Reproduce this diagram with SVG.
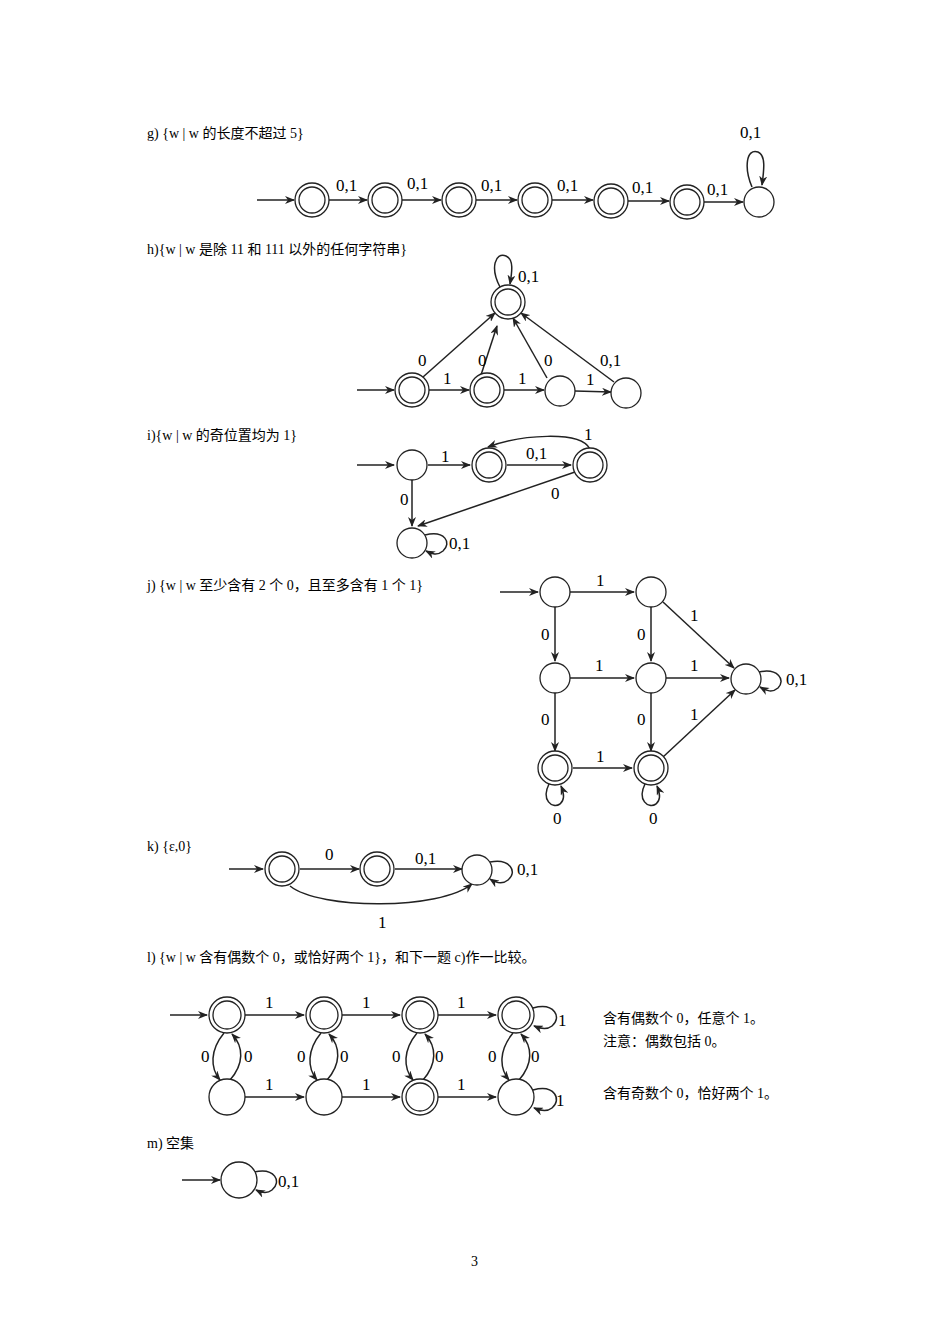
<svg xmlns="http://www.w3.org/2000/svg" width="950" height="1344" viewBox="0 0 950 1344">
<style>
text{font-family:"Liberation Serif","Noto Sans CJK SC",serif;font-size:17px;fill:#000}
.t{font-size:14px}
.s{fill:#fff;stroke:#222;stroke-width:1.3}
.i{fill:none;stroke:#222;stroke-width:1.3}
.e{fill:none;stroke:#222;stroke-width:1.5;marker-end:url(#a)}
</style>
<defs><marker id="a" markerWidth="10" markerHeight="8" refX="9" refY="4" orient="auto" markerUnits="userSpaceOnUse"><path d="M0,0L10,4L0,8L3,4z" fill="#222"/></marker></defs>
<rect width="950" height="1344" fill="#fff"/>
<g id="titles">
<text class="t" x="147" y="138">g) {w | w 的长度不超过 5}</text>
<text class="t" x="147" y="254">h){w | w 是除 11 和 111 以外的任何字符串}</text>
<text class="t" x="147" y="440">i){w | w 的奇位置均为 1}</text>
<text class="t" x="147" y="590">j) {w | w 至少含有 2 个 0，且至多含有 1 个 1}</text>
<text class="t" x="147" y="851">k) {ε,0}</text>
<text class="t" x="147" y="962">l) {w | w 含有偶数个 0，或恰好两个 1}，和下一题 c)作一比较。</text>
<text class="t" x="603" y="1023">含有偶数个 0，任意个 1。</text>
<text class="t" x="603" y="1046">注意：偶数包括 0。</text>
<text class="t" x="603" y="1098">含有奇数个 0，恰好两个 1。</text>
<text class="t" x="147" y="1148">m)  空集</text>
<text class="t" x="471" y="1266">3</text>
</g>
<g id="edges">
<line class="e" x1="257" y1="200" x2="294" y2="200"/>
<line class="e" x1="328" y1="200" x2="367" y2="200"/>
<line class="e" x1="401" y1="200" x2="441" y2="200"/>
<line class="e" x1="475" y1="200" x2="517" y2="200"/>
<line class="e" x1="551" y1="200" x2="593" y2="200"/>
<line class="e" x1="627" y1="201" x2="669" y2="201"/>
<line class="e" x1="703" y1="202" x2="743" y2="202"/>
<path class="e" d="M752,187 C744,168 746,148 758,152 C766,155 764,170 762,185"/>
<line class="e" x1="357" y1="390" x2="394" y2="390"/>
<line class="e" x1="428" y1="390" x2="469" y2="390"/>
<line class="e" x1="503" y1="390" x2="544" y2="390"/>
<line class="e" x1="575" y1="391" x2="611" y2="392"/>
<line class="e" x1="414" y1="385" x2="495" y2="313"/>
<line class="e" x1="481" y1="375" x2="497" y2="326"/>
<line class="e" x1="547" y1="378" x2="513" y2="318"/>
<line class="e" x1="614" y1="382" x2="521" y2="313"/>
<path class="e" d="M500,287 C490,268 495,252 506,256 C514,259 512,272 510,284"/>
<line class="e" x1="357" y1="465" x2="394" y2="465"/>
<line class="e" x1="428" y1="465" x2="470" y2="465"/>
<line class="e" x1="507" y1="465" x2="571" y2="465"/>
<path class="e" d="M590,449 C580,430 520,435 488,447"/>
<line class="e" x1="575" y1="472" x2="418" y2="526"/>
<line class="e" x1="412" y1="480" x2="412" y2="526"/>
<path class="e" d="M425,535 C445,530 452,543 443,551 C437,556 432,554 426,551"/>
<line class="e" x1="500" y1="592" x2="538" y2="592"/>
<line class="e" x1="570" y1="592" x2="634" y2="592"/>
<line class="e" x1="555" y1="607" x2="555" y2="661"/>
<line class="e" x1="651" y1="607" x2="651" y2="661"/>
<line class="e" x1="663" y1="602" x2="734" y2="668"/>
<line class="e" x1="570" y1="678" x2="634" y2="678"/>
<line class="e" x1="666" y1="678" x2="729" y2="678"/>
<path class="e" d="M759,672 C778,668 786,680 778,688 C772,693 767,691 760,687"/>
<line class="e" x1="555" y1="693" x2="555" y2="751"/>
<line class="e" x1="651" y1="693" x2="651" y2="751"/>
<line class="e" x1="663" y1="757" x2="735" y2="690"/>
<line class="e" x1="573" y1="768" x2="632" y2="768"/>
<path class="e" d="M549,784 C541,800 552,809 560,804 C565,800 564,793 561,786"/>
<path class="e" d="M645,784 C637,800 648,809 656,804 C661,800 660,793 657,786"/>
<line class="e" x1="229" y1="869" x2="263" y2="869"/>
<line class="e" x1="300" y1="869" x2="359" y2="869"/>
<line class="e" x1="395" y1="869" x2="462" y2="869"/>
<path class="e" d="M490,862 C510,858 518,872 508,880 C502,885 496,883 490,879"/>
<path class="e" d="M290,886 C320,910 440,910 472,884"/>
<line class="e" x1="170" y1="1015" x2="207" y2="1015"/>
<line class="e" x1="245" y1="1015" x2="304" y2="1015"/>
<line class="e" x1="342" y1="1015" x2="400" y2="1015"/>
<line class="e" x1="438" y1="1015" x2="496" y2="1015"/>
<line class="e" x1="245" y1="1097" x2="304" y2="1097"/>
<line class="e" x1="342" y1="1097" x2="400" y2="1097"/>
<line class="e" x1="438" y1="1097" x2="496" y2="1097"/>
<path class="e" d="M533,1008 C555,1002 562,1018 552,1026 C547,1030 541,1029 534,1026"/>
<path class="e" d="M533,1090 C555,1084 562,1100 552,1108 C547,1112 541,1111 534,1108"/>
<path class="e" d="M224,1033 C210,1050 210,1068 220,1080"/>
<path class="e" d="M230,1080 C244,1064 244,1047 232,1034"/>
<path class="e" d="M321,1033 C307,1050 307,1068 317,1080"/>
<path class="e" d="M327,1080 C341,1064 341,1047 329,1034"/>
<path class="e" d="M417,1033 C403,1050 403,1068 413,1080"/>
<path class="e" d="M423,1080 C437,1064 437,1047 425,1034"/>
<path class="e" d="M513,1033 C499,1050 499,1068 509,1080"/>
<path class="e" d="M519,1080 C533,1064 533,1047 521,1034"/>
<line class="e" x1="182" y1="1180" x2="220" y2="1180"/>
<path class="e" d="M254,1172 C275,1167 282,1182 272,1190 C267,1194 262,1193 256,1190"/>
</g>
<g id="labels">
<text x="336" y="191">0,1</text><text x="407" y="189">0,1</text><text x="481" y="191">0,1</text>
<text x="557" y="191">0,1</text><text x="632" y="193">0,1</text><text x="707" y="195">0,1</text>
<text x="740" y="138">0,1</text>
<text x="418" y="366">0</text><text x="478" y="366">0</text><text x="544" y="366">0</text><text x="600" y="366">0,1</text>
<text x="443" y="384">1</text><text x="518" y="384">1</text><text x="586" y="385">1</text>
<text x="518" y="282">0,1</text>
<text x="441" y="462">1</text><text x="526" y="459">0,1</text><text x="584" y="440">1</text>
<text x="551" y="499">0</text><text x="400" y="505">0</text><text x="449" y="549">0,1</text>
<text x="596" y="586">1</text><text x="690" y="621">1</text>
<text x="541" y="640">0</text><text x="637" y="640">0</text>
<text x="595" y="671">1</text><text x="690" y="671">1</text><text x="786" y="685">0,1</text>
<text x="541" y="725">0</text><text x="637" y="725">0</text><text x="690" y="720">1</text>
<text x="596" y="762">1</text>
<text x="553" y="824">0</text><text x="649" y="824">0</text>
<text x="325" y="860">0</text><text x="415" y="864">0,1</text><text x="517" y="875">0,1</text><text x="378" y="928">1</text>
<text x="265" y="1008">1</text><text x="362" y="1008">1</text><text x="457" y="1008">1</text>
<text x="265" y="1090">1</text><text x="362" y="1090">1</text><text x="457" y="1090">1</text>
<text x="558" y="1026">1</text><text x="556" y="1106">1</text>
<text x="201" y="1062">0</text><text x="244" y="1062">0</text>
<text x="297" y="1062">0</text><text x="340" y="1062">0</text>
<text x="392" y="1062">0</text><text x="435" y="1062">0</text>
<text x="488" y="1062">0</text><text x="531" y="1062">0</text>
<text x="278" y="1187">0,1</text>
</g>
<g id="g-nodes">
<g id="g0"><circle class="s" cx="312" cy="200" r="17"/><circle class="i" cx="312" cy="200" r="13"/></g>
<g id="g1"><circle class="s" cx="385" cy="200" r="17"/><circle class="i" cx="385" cy="200" r="13"/></g>
<g id="g2"><circle class="s" cx="459" cy="200" r="17"/><circle class="i" cx="459" cy="200" r="13"/></g>
<g id="g3"><circle class="s" cx="535" cy="200" r="17"/><circle class="i" cx="535" cy="200" r="13"/></g>
<g id="g4"><circle class="s" cx="611" cy="201" r="17"/><circle class="i" cx="611" cy="201" r="13"/></g>
<g id="g5"><circle class="s" cx="687" cy="202" r="17"/><circle class="i" cx="687" cy="202" r="13"/></g>
<g id="g6"><circle class="s" cx="759" cy="202" r="15"/></g>
</g>
<g id="h-nodes">
<g id="h0"><circle class="s" cx="508" cy="302" r="17"/><circle class="i" cx="508" cy="302" r="13"/></g>
<g id="h1"><circle class="s" cx="412" cy="390" r="17"/><circle class="i" cx="412" cy="390" r="13"/></g>
<g id="h2"><circle class="s" cx="487" cy="390" r="17"/><circle class="i" cx="487" cy="390" r="13"/></g>
<g id="h3"><circle class="s" cx="560" cy="391" r="15"/></g>
<g id="h4"><circle class="s" cx="626" cy="393" r="15"/></g>
</g>
<g id="i-nodes">
<g id="i0"><circle class="s" cx="412" cy="465" r="15"/></g>
<g id="i1"><circle class="s" cx="489" cy="465" r="17"/><circle class="i" cx="489" cy="465" r="13"/></g>
<g id="i2"><circle class="s" cx="590" cy="465" r="17"/><circle class="i" cx="590" cy="465" r="13"/></g>
<g id="i3"><circle class="s" cx="412" cy="543" r="15"/></g>
</g>
<g id="j-nodes">
<g id="j0"><circle class="s" cx="555" cy="592" r="15"/></g>
<g id="j1"><circle class="s" cx="651" cy="592" r="15"/></g>
<g id="j2"><circle class="s" cx="555" cy="678" r="15"/></g>
<g id="j3"><circle class="s" cx="651" cy="678" r="15"/></g>
<g id="j4"><circle class="s" cx="746" cy="679" r="15"/></g>
<g id="j5"><circle class="s" cx="555" cy="768" r="17"/><circle class="i" cx="555" cy="768" r="13"/></g>
<g id="j6"><circle class="s" cx="651" cy="768" r="17"/><circle class="i" cx="651" cy="768" r="13"/></g>
</g>
<g id="k-nodes">
<g id="k0"><circle class="s" cx="282" cy="869" r="17"/><circle class="i" cx="282" cy="869" r="13"/></g>
<g id="k1"><circle class="s" cx="377" cy="869" r="17"/><circle class="i" cx="377" cy="869" r="13"/></g>
<g id="k2"><circle class="s" cx="477" cy="870" r="15"/></g>
</g>
<g id="l-nodes">
<g id="l0"><circle class="s" cx="227" cy="1015" r="18"/><circle class="i" cx="227" cy="1015" r="14"/></g>
<g id="l1"><circle class="s" cx="324" cy="1015" r="18"/><circle class="i" cx="324" cy="1015" r="14"/></g>
<g id="l2"><circle class="s" cx="420" cy="1015" r="18"/><circle class="i" cx="420" cy="1015" r="14"/></g>
<g id="l3"><circle class="s" cx="516" cy="1015" r="18"/><circle class="i" cx="516" cy="1015" r="14"/></g>
<g id="l4"><circle class="s" cx="227" cy="1097" r="18"/></g>
<g id="l5"><circle class="s" cx="324" cy="1097" r="18"/></g>
<g id="l6"><circle class="s" cx="420" cy="1097" r="18"/><circle class="i" cx="420" cy="1097" r="14"/></g>
<g id="l7"><circle class="s" cx="516" cy="1097" r="18"/></g>
</g>
<g id="m-nodes"><g id="m0"><circle class="s" cx="239" cy="1180" r="18"/></g></g>
</svg>
